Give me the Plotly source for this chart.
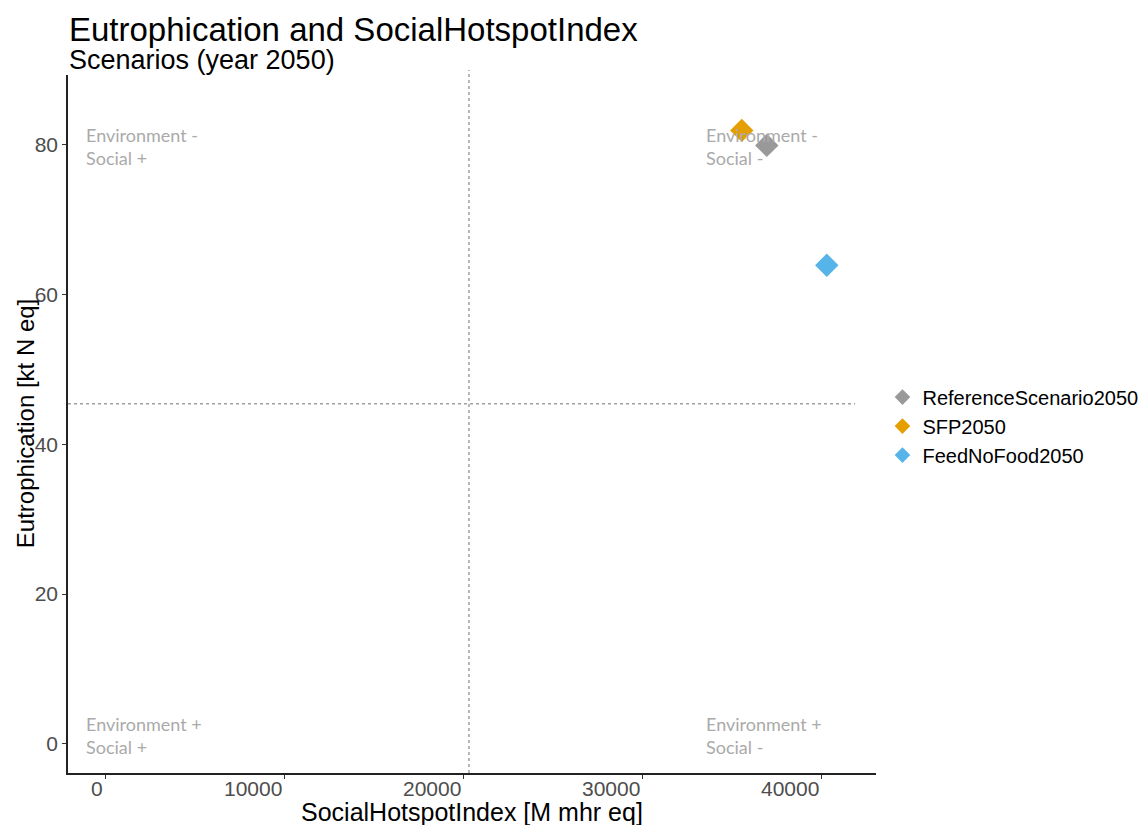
import plotly.graph_objects as go

# scenario results (year 2050)
scenarios = ['ReferenceScenario2050', 'SFP2050', 'FeedNoFood2050']
social_hotspot = [36970, 35570, 40320]
eutrophication = [79.9, 81.9, 63.9]
colors = ['#999999', '#E69F00', '#56B4E9']

# quadrant reference lines
x_split = 20330
y_split = 45.4
h_line_end = 41900

quadrant_labels = ['Environment -<br>Social +', 'Environment -<br>Social -',
                   'Environment +<br>Social +', 'Environment +<br>Social -']
quadrant_x = [-1200, 33450, -1200, 33450]
quadrant_y = [79.8, 79.8, 1.15, 1.15]

x_ticks = [0, 10000, 20000, 30000, 40000]
y_ticks = [0, 20, 40, 60, 80]

fig = go.Figure()

for name, x, y, c in zip(scenarios, social_hotspot, eutrophication, colors):
    fig.add_trace(go.Scatter(
        x=[x], y=[y], mode='markers', name=name,
        marker=dict(symbol='diamond', size=18, color=c)
    ))

# dotted quadrant lines
fig.add_shape(type='line', xref='x', yref='paper', x0=x_split, x1=x_split, y0=0, y1=1.007,
              line=dict(color='#a0a0a0', width=1.5, dash='dot'), layer='below')
fig.add_shape(type='line', xref='x', yref='y', x0=-2070, x1=h_line_end, y0=y_split, y1=y_split,
              line=dict(color='#a0a0a0', width=1.5, dash='dot'), layer='below')

for txt, qx, qy in zip(quadrant_labels, quadrant_x, quadrant_y):
    fig.add_annotation(x=qx, y=qy, text=txt, showarrow=False, xanchor='left', yanchor='middle',
                       align='left', font=dict(family='Lato', size=18, color='#aaaaaa'))

# x tick labels (right aligned at the tick as in the original)
for t in x_ticks:
    fig.add_annotation(x=t, y=-0.003, xref='x', yref='paper', text=str(t), showarrow=False,
                       xanchor='right', yanchor='top', xshift=0,
                       font=dict(family='Arial', size=21, color='#4d4d4d'))

# axis titles
fig.add_annotation(x=0.5, y=-0.056, xref='paper', yref='paper', xanchor='center', yanchor='middle',
                   text='SocialHotspotIndex [M mhr eq]', showarrow=False,
                   font=dict(family='Arial', size=25, color='black'))
fig.add_annotation(x=-0.053, y=0.5, xref='paper', yref='paper', xanchor='center', yanchor='middle',
                   text='Eutrophication [kt N eq]', showarrow=False, textangle=-90,
                   font=dict(family='Arial', size=24, color='black'))

# title and subtitle
fig.add_annotation(x=-0.001, y=1.0645, xref='paper', yref='paper', xanchor='left', yanchor='middle',
                   text='Eutrophication and SocialHotspotIndex', showarrow=False,
                   font=dict(family='Arial', size=33, color='black'))
fig.add_annotation(x=-0.001, y=1.021, xref='paper', yref='paper', xanchor='left', yanchor='middle',
                   text='Scenarios (year 2050)', showarrow=False,
                   font=dict(family='Arial', size=27, color='black'))

fig.update_layout(
    width=1147, height=825,
    margin=dict(l=60, r=279, t=67, b=60),
    plot_bgcolor='white', paper_bgcolor='white',
    font=dict(family='Arial'),
    legend=dict(x=1.008, y=0.497, yanchor='middle', font=dict(size=20, color='black'),
                itemsizing='constant', tracegroupgap=0),
    xaxis=dict(range=[-2070, 43070], tickvals=x_ticks, showticklabels=False, automargin=False,
               showgrid=False, zeroline=False, showline=True, linecolor='#222222', linewidth=1.5,
               ticks='outside', ticklen=4, tickcolor='#333333'),
    yaxis=dict(range=[-3.9, 89.3], tickvals=y_ticks, automargin=False,
               showgrid=False, zeroline=False, showline=True, linecolor='#222222', linewidth=1.5,
               ticks='outside', ticklen=4, tickcolor='#333333',
               tickfont=dict(size=21, color='#4d4d4d')),
)

fig.write_html('out.html')
